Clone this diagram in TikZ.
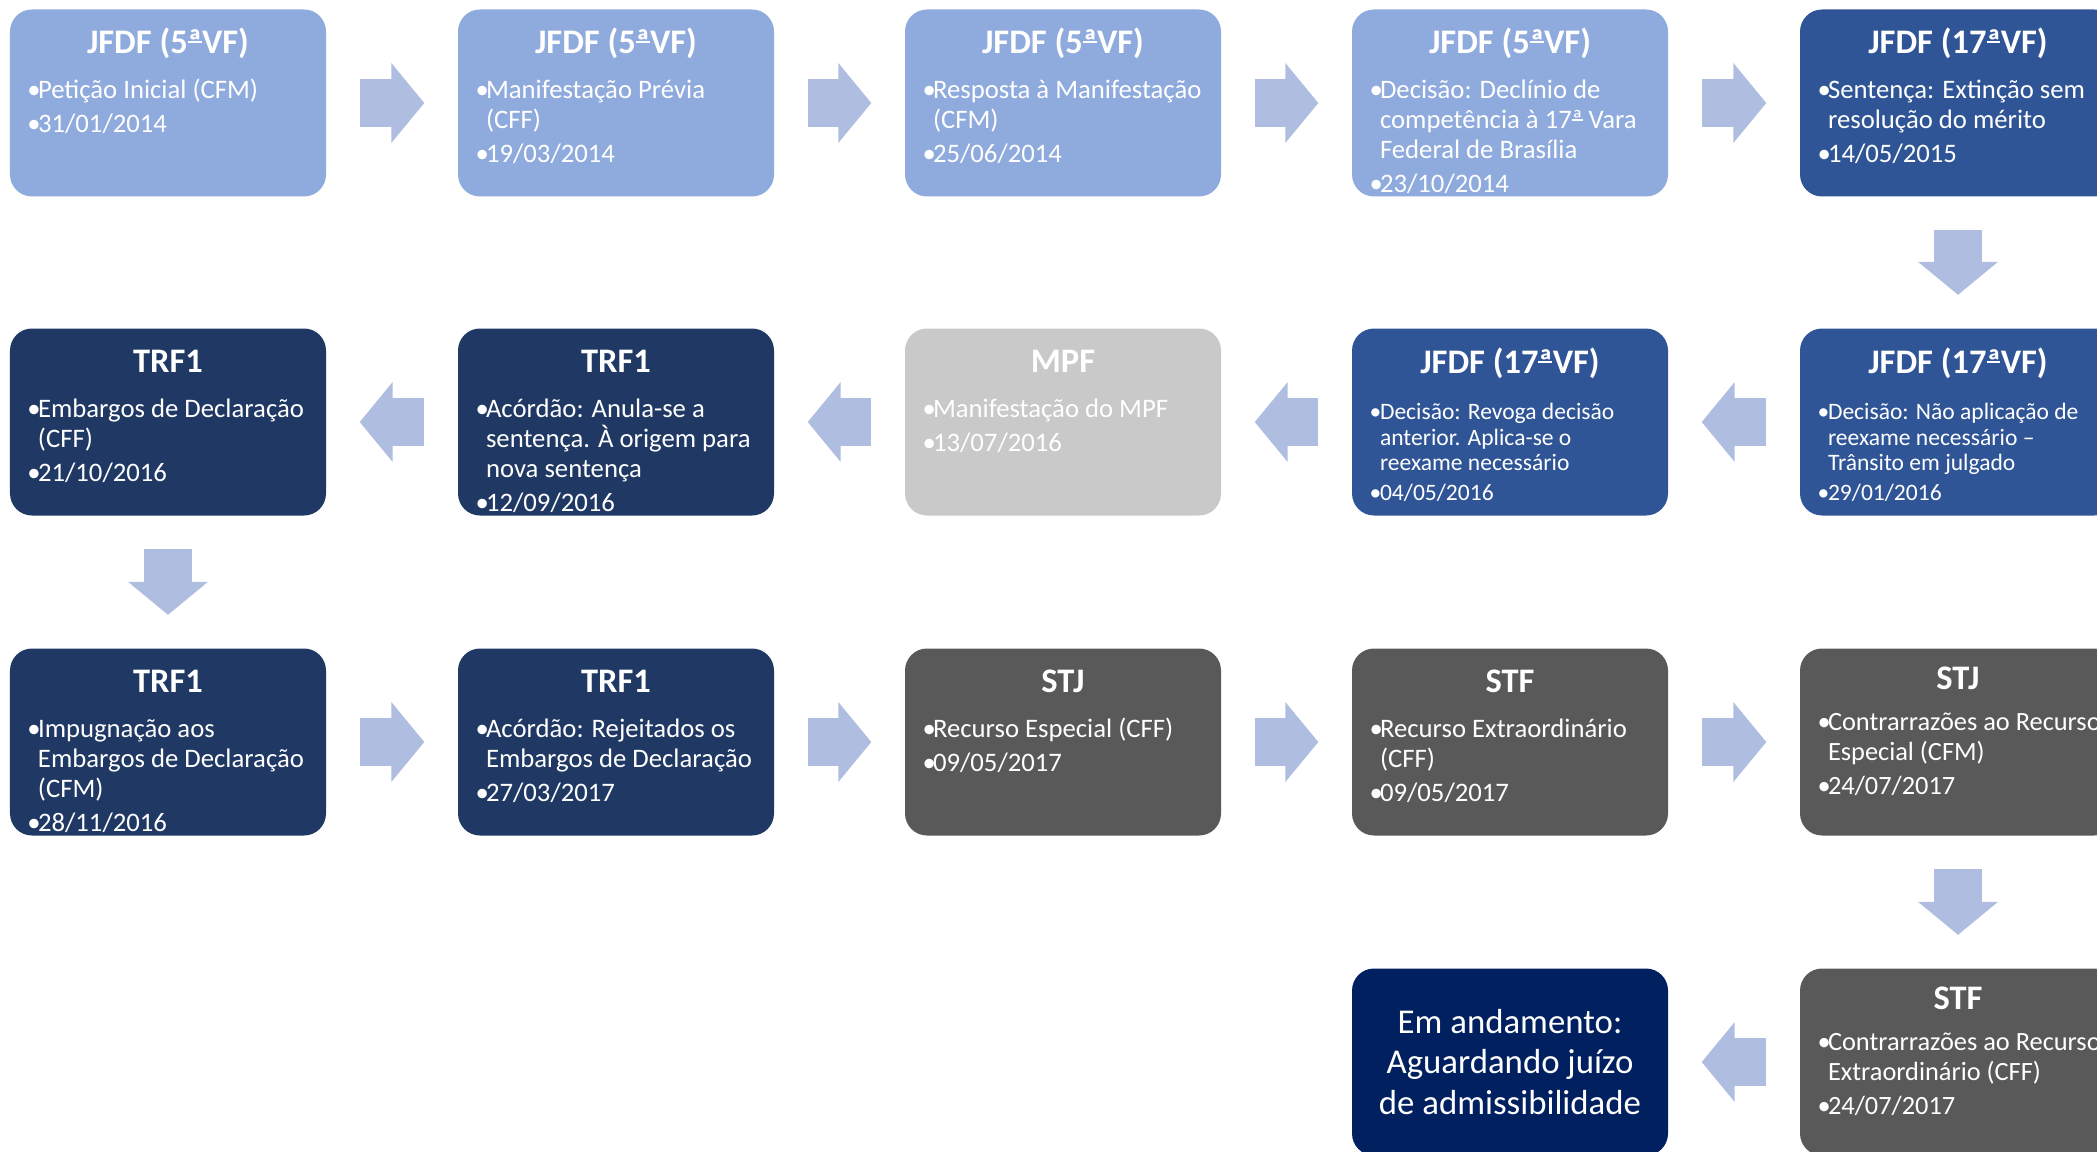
\documentclass[tikz,border=0pt]{standalone}
\usepackage{fontspec}
\setmainfont{Carlito}
\usetikzlibrary{arrows.meta}
\definecolor{claro}{HTML}{8FAADC}
\definecolor{medio}{HTML}{2F5597}
\definecolor{escuro}{HTML}{203864}
\definecolor{cinzaclaro}{HTML}{C9C9C9}
\definecolor{cinzaescuro}{HTML}{595959}
\definecolor{final}{HTML}{002060}
\definecolor{corseta}{HTML}{AFBDE0}
\newcommand{\ordin}{\makebox[0pt][l]{\rule[0.3em]{0.4em}{0.06em}}ª}
\newcommand{\marca}{\par\hangindent=0.105cm\hangafter=1\noindent\makebox[0.105cm][l]{•}}
\newcommand{\corpo}[7]{%
  \begin{minipage}[t][1.87cm][t]{3.00cm}%
    \setlength{\parskip}{0.035cm}%
    \centering\rule{0pt}{#1}\fontsize{9.8pt}{9.8pt}\selectfont\bfseries #6\par
    \vspace{#5}%
    \raggedright\leftskip=0.095cm\fontsize{#3}{#4}\selectfont\mdseries #7%
  \end{minipage}}
\newcommand{\etapa}{\corpo{0.44cm}{}{7.6pt}{8.54pt}{0.115cm}}
\newcommand{\etapamenor}{\corpo{0.45cm}{}{6.7pt}{7.3pt}{0.17cm}}
\newcommand{\etapamini}{\corpo{0.41cm}{}{7.5pt}{8.54pt}{0.075cm}}
\tikzset{caixa/.style={rectangle, rounded corners=0.22cm, minimum width=3.16cm, minimum height=1.87cm, inner sep=0pt, text=white},
  seta/.style={corseta, line width=0.48cm, shorten <=0.33cm, shorten >=0.33cm, -{Triangle[length=0.33cm,width=0.79cm,line width=1.5pt]}}}

\begin{document}
\begin{tikzpicture}
  \useasboundingbox (0,0) rectangle (20.97,11.51);
  \node[caixa, fill=claro] (a1) at (1.68,10.48) {\etapa{JFDF (5\ordin VF)}{\marca Petição Inicial (CFM)\marca 31/01/2014}};
  \node[caixa, fill=claro] (a2) at (6.16,10.48) {\etapa{JFDF (5\ordin VF)}{\marca Manifestação Prévia\newline (CFF)\marca 19/03/2014}};
  \node[caixa, fill=claro] (a3) at (10.63,10.48) {\etapa{JFDF (5\ordin VF)}{\marca Resposta à Manifestação\newline (CFM)\marca 25/06/2014}};
  \node[caixa, fill=claro] (a4) at (15.10,10.48) {\etapa{JFDF (5\ordin VF)}{\marca Decisão: Declínio de\newline competência à 17\ordin{} Vara\newline Federal de Brasília\marca 23/10/2014}};
  \node[caixa, fill=medio] (a5) at (19.58,10.48) {\etapa{JFDF (17\ordin VF)}{\marca Sentença: Extinção sem\newline resolução do mérito\marca 14/05/2015}};

  \node[caixa, fill=medio] (b5) at (19.58,7.29) {\etapamenor{JFDF (17\ordin VF)}{\marca Decisão: Não aplicação de\newline reexame necessário –\newline Trânsito em julgado\marca 29/01/2016}};
  \node[caixa, fill=medio] (b4) at (15.10,7.29) {\etapamenor{JFDF (17\ordin VF)}{\marca Decisão: Revoga decisão\newline anterior. Aplica-se o\newline reexame necessário\marca 04/05/2016}};
  \node[caixa, fill=cinzaclaro] (b3) at (10.63,7.29) {\etapa{MPF}{\marca Manifestação do MPF\marca 13/07/2016}};
  \node[caixa, fill=escuro] (b2) at (6.16,7.29) {\etapa{TRF1}{\marca Acórdão: Anula-se a\newline sentença. À origem para\newline nova sentença\marca 12/09/2016}};
  \node[caixa, fill=escuro] (b1) at (1.68,7.29) {\etapa{TRF1}{\marca Embargos de Declaração\newline (CFF)\marca 21/10/2016}};

  \node[caixa, fill=escuro] (c1) at (1.68,4.09) {\etapa{TRF1}{\marca Impugnação aos\newline Embargos de Declaração\newline (CFM)\marca 28/11/2016}};
  \node[caixa, fill=escuro] (c2) at (6.16,4.09) {\etapa{TRF1}{\marca Acórdão: Rejeitados os\newline Embargos de Declaração\marca 27/03/2017}};
  \node[caixa, fill=cinzaescuro] (c3) at (10.63,4.09) {\etapa{STJ}{\marca Recurso Especial (CFF)\marca 09/05/2017}};
  \node[caixa, fill=cinzaescuro] (c4) at (15.10,4.09) {\etapa{STF}{\marca Recurso Extraordinário\newline (CFF)\marca 09/05/2017}};
  \node[caixa, fill=cinzaescuro] (c5) at (19.58,4.09) {\etapamini{STJ}{\marca Contrarrazões ao Recurso\newline Especial (CFM)\marca 24/07/2017}};

  \node[caixa, fill=cinzaescuro] (d5) at (19.58,0.89) {\etapamini{STF}{\marca Contrarrazões ao Recurso\newline Extraordinário (CFF)\marca 24/07/2017}};
  \node[caixa, fill=final, align=center, font=\fontsize{9.9pt}{11.4pt}\selectfont] (d4) at (15.10,0.89) {Em andamento:\\Aguardando juízo\\de admissibilidade};

  \draw[seta] (a1) -- (a2);
  \draw[seta] (a2) -- (a3);
  \draw[seta] (a3) -- (a4);
  \draw[seta] (a4) -- (a5);
  \draw[seta] (a5) -- (b5);
  \draw[seta] (b5) -- (b4);
  \draw[seta] (b4) -- (b3);
  \draw[seta] (b3) -- (b2);
  \draw[seta] (b2) -- (b1);
  \draw[seta] (b1) -- (c1);
  \draw[seta] (c1) -- (c2);
  \draw[seta] (c2) -- (c3);
  \draw[seta] (c3) -- (c4);
  \draw[seta] (c4) -- (c5);
  \draw[seta] (c5) -- (d5);
  \draw[seta] (d5) -- (d4);
\end{tikzpicture}
\end{document}
